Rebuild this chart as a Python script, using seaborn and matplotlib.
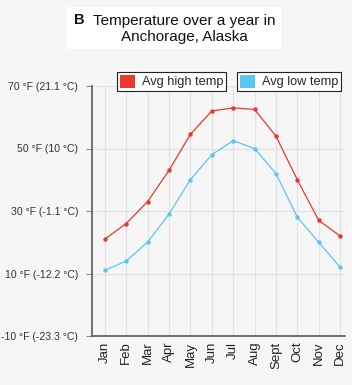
import matplotlib
matplotlib.use("Agg")
import matplotlib.pyplot as plt
from matplotlib.patches import Patch, Rectangle
import seaborn as sns
import pandas as pd

months = ["Jan", "Feb", "Mar", "Apr", "May", "Jun", "Jul", "Aug", "Sept", "Oct", "Nov", "Dec"]
high_temp = [21, 26, 33, 43, 54.5, 62, 63, 62.5, 54, 40, 27, 22]
low_temp = [11, 14, 20, 29, 40, 48, 52.5, 50, 42, 28, 20, 12]
series_names = ["Avg high temp", "Avg low temp"]
ytick_values = [-10, 10, 30, 50, 70]
ytick_labels = ["-10 °F (-23.3 °C)", "10 °F (-12.2 °C)", "30 °F (-1.1 °C)", "50 °F (10 °C)", "70 °F (21.1 °C)"]
title_letter = "B"
title_text = "Temperature over a year in\nAnchorage, Alaska"

RED = "#e8392c"
BLUE = "#5cc6f2"
BG = "#f6f6f6"

df = pd.DataFrame({
    "month": months * 2,
    "idx": list(range(len(months))) * 2,
    "temp": high_temp + low_temp,
    "series": [series_names[0]] * len(months) + [series_names[1]] * len(months),
})

sns.set_theme(style="white")
plt.rcParams["font.family"] = ["Liberation Sans", "DejaVu Sans"]

fig = plt.figure(figsize=(3.52, 3.85), dpi=100, facecolor=BG)
ax = fig.add_axes([92 / 352, 1 - 336 / 385, (345 - 92) / 352, (336 - 86) / 385])
ax.set_facecolor(BG)

sns.lineplot(data=df, x="idx", y="temp", hue="series", palette=[RED, BLUE],
             marker="o", markersize=3.2, markeredgewidth=0, linewidth=0.9,
             ax=ax, legend=False)

ax.set_xlim(-0.6, 11.23)
ax.set_ylim(-10, 70)
ax.set_xticks(range(len(months)))
ax.set_xticklabels(months, rotation=90, fontsize=9.5, color="#222222")
ax.set_yticks(ytick_values)
ax.set_yticklabels(ytick_labels, fontsize=7.6, color="#333333")
ax.set_xlabel("")
ax.set_ylabel("")
ax.grid(True, color="#e2e2e2", linewidth=0.9)
ax.set_axisbelow(True)
for s in ["top", "right"]:
    ax.spines[s].set_visible(False)
for s in ["left", "bottom"]:
    ax.spines[s].set_color("#666666")
    ax.spines[s].set_linewidth(1.3)
ax.tick_params(axis="y", which="both", left=True, length=4, width=0.8, color="#888888", pad=6)
ax.tick_params(axis="x", which="both", bottom=False, length=0, pad=4)

# Title box
fig.patches.append(Rectangle((67 / 352, 1 - 49 / 385), (281 - 67) / 352, (49 - 7) / 385,
                             transform=fig.transFigure, facecolor="white", edgecolor="none", zorder=0))
fig.text(184 / 352, 1 - 29 / 385, title_text, ha="center", va="center", fontsize=11,
         linespacing=1.15, color="#111111")
fig.text(74 / 352, 1 - 20 / 385, title_letter, ha="left", va="center", fontsize=10.5,
         fontweight="bold", color="#111111")

# Legends as two separate boxes
for name, col, x0 in zip(series_names, [RED, BLUE], [117 / 352, 237 / 352]):
    leg = fig.legend(handles=[Patch(facecolor=col, edgecolor="none", label=name)],
                     loc="upper left", bbox_to_anchor=(x0, 1 - 72 / 385), bbox_transform=fig.transFigure,
                     borderaxespad=0, frameon=True, fancybox=False, framealpha=1,
                     edgecolor="#222222", facecolor="white", fontsize=9.2,
                     handlelength=1.2, handleheight=1.2, handletextpad=0.55, borderpad=0.2)
    leg.get_frame().set_linewidth(0.8)

fig.savefig("out.png", dpi=100, facecolor=BG)
